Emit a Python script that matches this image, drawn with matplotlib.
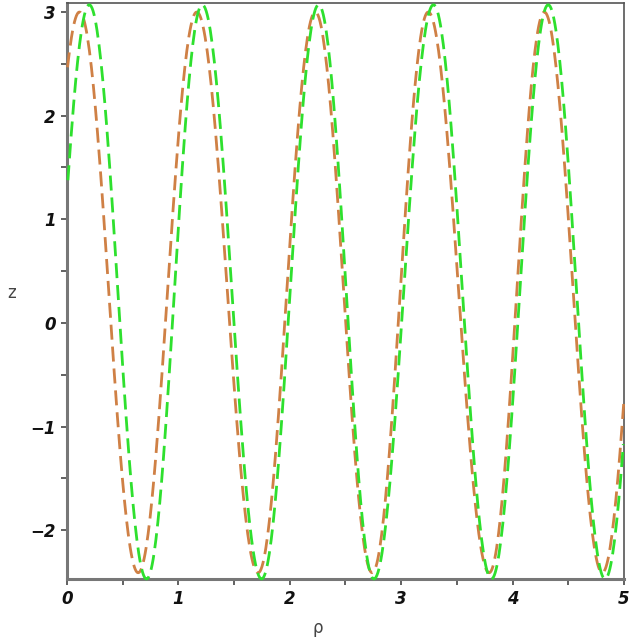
import numpy as np
import matplotlib
matplotlib.use("Agg")
import matplotlib.pyplot as plt

# Extrema (rho, z), alternating peak/trough
brown_x = [0.112, 0.639, 1.165, 1.716, 2.229, 2.740, 3.243, 3.790, 4.285, 4.805]
brown_z = [3.00, -2.41, 3.00, -2.41, 3.00, -2.41, 3.00, -2.41, 3.00, -2.41]
green_x = [0.200, 0.714, 1.214, 1.747, 2.259, 2.755, 3.290, 3.810, 4.320, 4.830]
green_z = [3.07, -2.47, 3.07, -2.47, 3.07, -2.47, 3.07, -2.47, 3.07, -2.47]

x_ticks = [0, 1, 2, 3, 4, 5]
y_ticks = [-2, -1, 0, 1, 2, 3]
x_range = (0.0, 5.0)
y_range = (-2.47, 3.085)


def smooth_through_extrema(xs, zs, lo, hi, n=60):
    """Half-cosine segments between consecutive extrema; the end segments
    continue with the neighbouring half-width up to the plot edges."""
    xs = list(xs); zs = list(zs)
    xs = [xs[0] - (xs[1] - xs[0])] + xs + [xs[-1] + (xs[-1] - xs[-2])]
    zs = [zs[1]] + zs + [zs[-2]]
    px, pz = [], []
    for i in range(len(xs) - 1):
        t = np.linspace(0, 1, n)
        seg_x = xs[i] + (xs[i + 1] - xs[i]) * t
        seg_z = zs[i] + (zs[i + 1] - zs[i]) * (1 - np.cos(np.pi * t)) / 2
        px.append(seg_x); pz.append(seg_z)
    px = np.concatenate(px); pz = np.concatenate(pz)
    m = (px >= lo) & (px <= hi)
    return px[m], pz[m]


fig = plt.figure(figsize=(6.29, 6.38), dpi=100)
ax = fig.add_axes([0.1065, 0.0925, 0.8855, 0.9025])

bx, bz = smooth_through_extrema(brown_x, brown_z, *x_range)
gx, gz = smooth_through_extrema(green_x, green_z, *x_range)

ax.plot(bx, bz, color="#CF8045", lw=2.0, dashes=(5.4, 2.5), zorder=3, clip_on=False)
ax.plot(gx, gz, color="#2EE02E", lw=2.0, dashes=(5.4, 2.5), zorder=3, clip_on=False)

ax.set_xlim(*x_range)
ax.set_ylim(*y_range)

xt = np.arange(0, 5.01, 0.5)
yt = np.arange(-2, 3.01, 0.5)
ax.set_xticks(xt)
ax.set_yticks(yt)
ax.set_xticklabels([str(int(v)) if v in x_ticks else "" for v in xt])
ax.set_yticklabels([("\u2212" + str(int(-v)) if v < 0 else str(int(v))) if v in y_ticks else ""
                    for v in yt])
for lab in ax.get_xticklabels() + ax.get_yticklabels():
    lab.set_fontstyle("italic")
    lab.set_fontweight("bold")
    lab.set_fontsize(12)
    lab.set_color("#111111")

ax.tick_params(axis="both", direction="out", length=4, width=1.3, color="#555555", pad=4)

for side in ["left", "bottom"]:
    ax.spines[side].set_color("#777777")
    ax.spines[side].set_linewidth(2.2)
for side in ["top", "right"]:
    ax.spines[side].set_color("#555555")
    ax.spines[side].set_linewidth(1.2)

fig.text(318 / 629, 1 - 628 / 638, "\u03c1", ha="center", va="center", fontsize=12, color="#444444")
fig.text(12 / 629, 1 - 293 / 638, "z", ha="center", va="center", fontsize=12, color="#444444")

fig.savefig("out.png", dpi=100)
